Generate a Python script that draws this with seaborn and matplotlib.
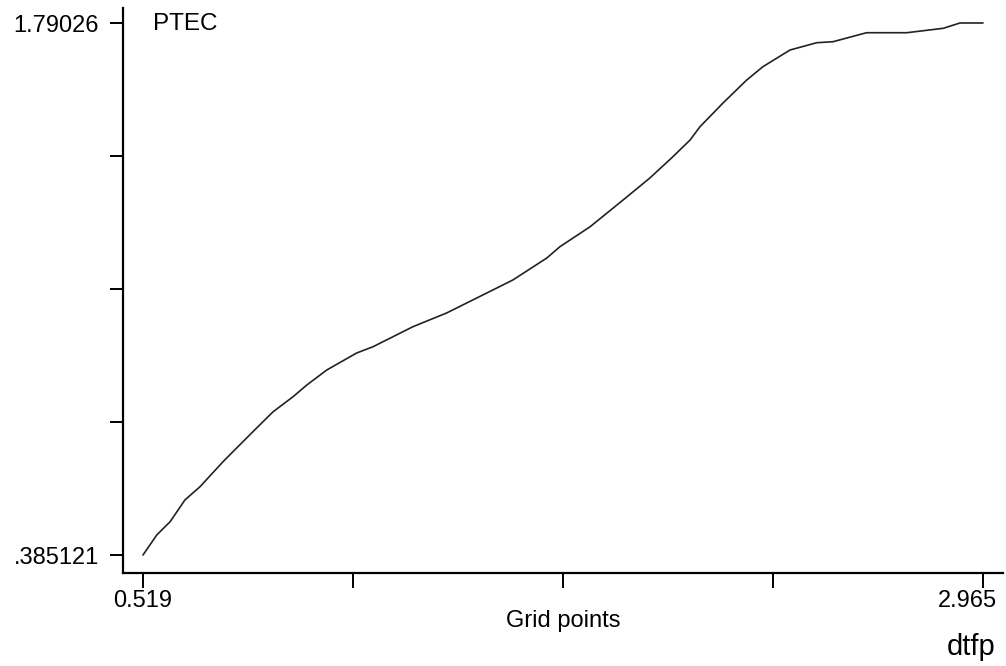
import matplotlib
matplotlib.use('Agg')
import matplotlib.pyplot as plt
import matplotlib.transforms as mtransforms
import seaborn as sns
import numpy as np

# valores (dtfp x PTEC)
grid_points = [0.519, 0.559, 0.598, 0.641, 0.685, 0.752, 0.781, 0.850, 0.898,
               0.956, 0.996, 1.054, 1.141, 1.189, 1.305, 1.403, 1.520, 1.596,
               1.695, 1.733, 1.821, 1.917, 1.995, 2.062, 2.112, 2.141, 2.208,
               2.277, 2.324, 2.403, 2.481, 2.528, 2.626, 2.743, 2.849, 2.898,
               2.956, 2.965]
ptec = [0.3851, 0.4379, 0.4731, 0.5304, 0.5655, 0.6315, 0.6580, 0.7206, 0.7636,
        0.8032, 0.8341, 0.8737, 0.9186, 0.9353, 0.9881, 1.0243, 1.0771, 1.1115,
        1.1696, 1.1994, 1.2522, 1.3228, 1.3809, 1.4371, 1.4812, 1.5164, 1.5790,
        1.6397, 1.6748, 1.7189, 1.7382, 1.7408, 1.7646, 1.7646, 1.7762, 1.7903,
        1.7903, 1.79026]

x_min, x_max = 0.519, 2.965
y_min, y_max = 0.385121, 1.79026
x_labels = ['0.519', '', '', '', '2.965']
y_labels = ['.385121', '', '', '', '1.79026']

sns.set_style('ticks')
plt.rcParams['font.family'] = ['Liberation Sans', 'DejaVu Sans']
plt.rcParams['text.color'] = 'black'
plt.rcParams['axes.labelcolor'] = 'black'

fig = plt.figure(figsize=(10.06, 6.66), dpi=100)
fig.patch.set_color('white')
ax = fig.add_axes([123/1006, 1-573/666, 880/1006, 565/666])

sns.lineplot(x=grid_points, y=ptec, ax=ax, color='#222222', linewidth=1.2)

xpx = (x_max - x_min) / 840
ypx = (y_max - y_min) / 532
ax.set_xlim(x_min - 20*xpx, x_max + 20*xpx)
ax.set_ylim(y_min - 18*ypx, y_max + 15*ypx)

ax.set_xticks(np.linspace(x_min, x_max, 5))
ax.set_xticklabels(x_labels)
ax.set_yticks(np.linspace(y_min, y_max, 5))
ax.set_yticklabels(y_labels)

ax.tick_params(axis='x', length=10.5, width=1.4, pad=2, labelsize=17, colors='black')
ax.tick_params(axis='y', length=9.5, width=1.4, pad=8, labelsize=17, colors='black')

# ultimo rotulo do eixo x fica um pouco pra esquerda
lab = ax.get_xticklabels()[-1]
lab.set_transform(lab.get_transform() + mtransforms.ScaledTranslation(-16/100, 0, fig.dpi_scale_trans))

for s in ['top', 'right']:
    ax.spines[s].set_visible(False)
for s in ['left', 'bottom']:
    ax.spines[s].set_linewidth(1.6)
    ax.spines[s].set_color('black')

ax.set_xlabel('Grid points', fontsize=17, color='black')
ax.xaxis.set_label_coords(0.5, -0.066)
ax.set_ylabel('')

fig.text(153/1006, 1-24/666, 'PTEC', fontsize=17.5, va='center', ha='left', color='black')
fig.text(995/1006, 1-647/666, 'dtfp', fontsize=21, va='center', ha='right', color='black')

fig.savefig('out.png', dpi=100)
